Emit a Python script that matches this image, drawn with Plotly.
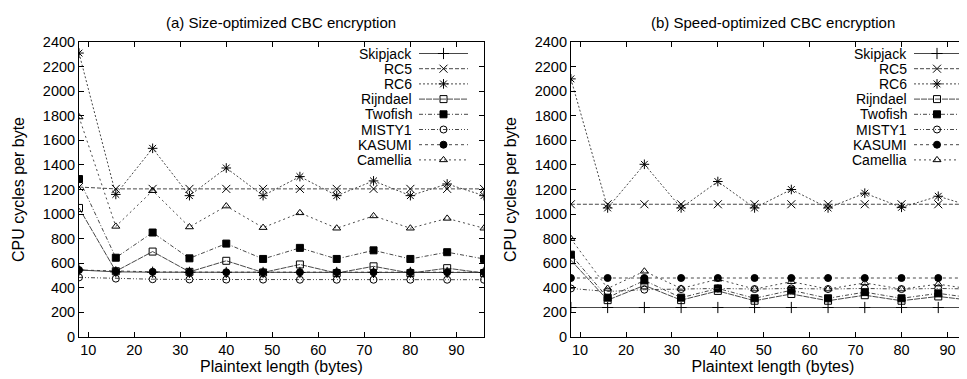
import plotly.graph_objects as go

x_len = [8, 16, 24, 32, 40, 48, 56, 64, 72, 80, 88, 96]
names = ["Skipjack", "RC5", "RC6", "Rijndael", "Twofish", "MISTY1", "KASUMI", "Camellia"]

# (a) Size-optimized CBC encryption
size_skipjack = [545, 530, 527, 526, 525, 525, 525, 525, 525, 525, 525, 525]
size_rc5 = [1220, 1205, 1205, 1205, 1205, 1205, 1205, 1205, 1205, 1205, 1205, 1205]
size_rc6 = [2310, 1160, 1535, 1150, 1375, 1150, 1305, 1150, 1270, 1150, 1245, 1150]
size_rijndael = [1050, 535, 695, 530, 620, 525, 590, 520, 575, 520, 560, 520]
size_twofish = [1285, 645, 850, 640, 760, 635, 725, 635, 705, 635, 690, 635]
size_misty1 = [485, 475, 470, 468, 467, 467, 466, 466, 466, 466, 466, 466]
size_kasumi = [545, 535, 530, 528, 527, 527, 527, 527, 527, 527, 527, 527]
size_camellia = [1790, 900, 1190, 895, 1065, 890, 1010, 885, 985, 885, 965, 885]

# (b) Speed-optimized CBC encryption
speed_skipjack = [240, 240, 240, 240, 240, 240, 240, 240, 240, 240, 240, 240]
speed_rc5 = [1080, 1080, 1080, 1080, 1080, 1080, 1080, 1080, 1080, 1080, 1080, 1080]
speed_rc6 = [2100, 1050, 1405, 1050, 1265, 1050, 1200, 1050, 1170, 1055, 1145, 1055]
speed_rijndael = [625, 300, 420, 300, 375, 295, 350, 295, 340, 295, 330, 295]
speed_twofish = [670, 320, 460, 320, 395, 315, 380, 315, 365, 315, 355, 315]
speed_misty1 = [395, 370, 385, 390, 395, 390, 395, 390, 395, 390, 395, 390]
speed_kasumi = [480, 480, 480, 480, 480, 480, 480, 480, 480, 480, 480, 480]
speed_camellia = [800, 395, 535, 395, 470, 390, 450, 390, 440, 390, 430, 385]

y_ticks = [0, 200, 400, 600, 800, 1000, 1200, 1400, 1600, 1800, 2000, 2200, 2400]
x_ticks = [10, 20, 30, 40, 50, 60, 70, 80, 90]

titles = ["(a) Size-optimized CBC encryption", "(b) Speed-optimized CBC encryption"]

styles = {
    "Skipjack": dict(dash="solid", symbol="cross-thin"),
    "RC5": dict(dash="4px,2px", symbol="x-thin"),
    "RC6": dict(dash="2px,2px", symbol="asterisk"),
    "Rijndael": dict(dash="6px,1px", symbol="square-open"),
    "Twofish": dict(dash="4px,2px,1px,2px", symbol="square"),
    "MISTY1": dict(dash="4px,2px,1px,2px,1px,2px", symbol="circle-open"),
    "KASUMI": dict(dash="3px,3px", symbol="circle"),
    "Camellia": dict(dash="2px,3px", symbol="triangle-up-open"),
}

size_series = [size_skipjack, size_rc5, size_rc6, size_rijndael, size_twofish,
               size_misty1, size_kasumi, size_camellia]
speed_series = [speed_skipjack, speed_rc5, speed_rc6, speed_rijndael, speed_twofish,
                speed_misty1, speed_kasumi, speed_camellia]

W, H = 967, 379
ML, MR, MT, MB = 71, 0, 34, 50
FONT = "Liberation Sans, Arial, Helvetica, sans-serif"
LINE_COLOR = "#333"

# legend layout (pixel positions in the figure)
legend_text_right = [406, 901]
legend_key_span = [(411, 460), (906, 952)]
legend_row_top = 45.5
legend_row_step = 15.2

fig = go.Figure()


def marker_for(name):
    st = styles[name]
    thin = st["symbol"] in ("cross-thin", "x-thin", "asterisk")
    return dict(symbol=st["symbol"], size=8 if thin else 7, color="black",
                line=dict(color="black", width=1))


def add_panel(series, xa, ya):
    for name, vals in zip(names, series):
        st = styles[name]
        fig.add_trace(go.Scatter(
            x=x_len, y=vals, name=name, mode="lines+markers",
            xaxis=xa, yaxis=ya, showlegend=False,
            line=dict(color=LINE_COLOR, width=0.9, dash=st["dash"]),
            marker=marker_for(name),
        ))


add_panel(size_series, "x", "y")
add_panel(speed_series, "x2", "y2")

# custom legend drawn on a pixel-scaled helper axis
annotations = []
for p in range(2):
    x0, x1 = legend_key_span[p]
    for i, name in enumerate(names):
        yy = legend_row_top + i * legend_row_step
        st = styles[name]
        fig.add_trace(go.Scatter(
            x=[x0, x1], y=[yy, yy], mode="lines", xaxis="x3", yaxis="y3",
            showlegend=False, hoverinfo="skip",
            line=dict(color=LINE_COLOR, width=0.9, dash=st["dash"]),
        ))
        fig.add_trace(go.Scatter(
            x=[(x0 + x1) / 2], y=[yy], mode="markers", xaxis="x3", yaxis="y3",
            showlegend=False, hoverinfo="skip", marker=marker_for(name),
        ))
        annotations.append(dict(
            text=name, x=legend_text_right[p], y=yy, xref="x3", yref="y3",
            xanchor="right", yanchor="middle", showarrow=False,
            font=dict(size=14, family=FONT, color="black"),
        ))

annotations += [
    dict(text=titles[0], x=0.226, y=1.0, xref="paper", yref="paper", xanchor="center",
         yanchor="middle", yshift=20, showarrow=False, font=dict(size=15, family=FONT)),
    dict(text=titles[1], x=0.7745, y=1.0, xref="paper", yref="paper", xanchor="center",
         yanchor="middle", yshift=20, showarrow=False, font=dict(size=15, family=FONT)),
]

axis_common = dict(showline=True, linecolor="black", linewidth=1, mirror="ticks",
                   ticks="inside", ticklen=5, tickcolor="black", showgrid=False,
                   zeroline=False, tickfont=dict(size=14.5, color="black", family=FONT))

fig.update_layout(
    width=W, height=H,
    margin=dict(l=ML, r=MR, t=MT, b=MB),
    plot_bgcolor="rgba(0,0,0,0)", paper_bgcolor="white",
    font=dict(family=FONT, size=13, color="black"),
    showlegend=False,
    xaxis=dict(domain=[0, 0.452], range=[8, 96], tickvals=x_ticks,
               title=dict(text="Plaintext length (bytes)", standoff=1, font=dict(size=16)),
               anchor="y", **axis_common),
    yaxis=dict(domain=[0, 1], range=[0, 2400], tickvals=y_ticks,
               title=dict(text="CPU cycles per byte", standoff=14, font=dict(size=16)),
               anchor="x", **axis_common),
    xaxis2=dict(domain=[0.549, 1], range=[8, 96], tickvals=x_ticks,
                title=dict(text="Plaintext length (bytes)", standoff=1, font=dict(size=16)),
                anchor="y2", **axis_common),
    yaxis2=dict(domain=[0, 1], range=[0, 2400], tickvals=y_ticks,
                title=dict(text="CPU cycles per byte", standoff=14, font=dict(size=16)),
                anchor="x2", **axis_common),
    xaxis3=dict(domain=[0, 1], range=[ML, W - MR], visible=False, fixedrange=True,
                anchor="y3"),
    yaxis3=dict(domain=[0, 1], range=[H - MB, MT], visible=False, fixedrange=True,
                anchor="x3"),
    annotations=annotations,
)

fig.write_html("out.html")
